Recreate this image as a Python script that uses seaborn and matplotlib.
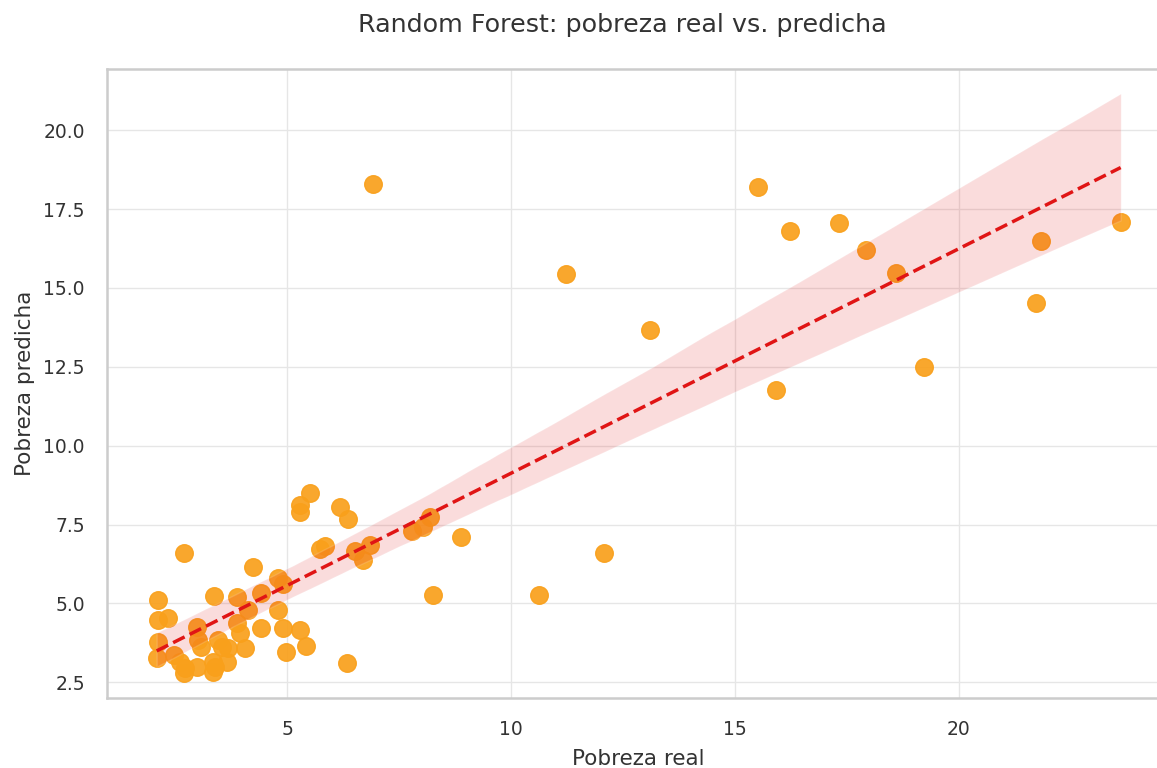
import numpy as np
import pandas as pd
import matplotlib
matplotlib.use("Agg")
import matplotlib.pyplot as plt
import seaborn as sns

# Observed vs. predicted poverty rates (%)
pobreza_real = [
    2.10, 2.10, 2.34, 2.10, 2.08, 2.46, 2.61, 2.72, 2.68, 2.99,
    2.70, 2.99, 3.01, 3.06, 3.35, 3.44, 3.55, 3.68, 3.33, 3.39,
    3.33, 3.66, 3.88, 3.88, 3.95, 4.11, 4.06, 4.24, 4.40, 4.40,
    4.78, 4.80, 4.91, 4.91, 4.96, 5.29, 5.42, 6.34, 5.29, 5.29,
    5.51, 6.18, 6.36, 5.74, 5.85, 6.52, 6.70, 6.85, 6.92, 7.79,
    8.04, 8.19, 8.26, 8.88, 10.63, 11.23, 12.08, 13.10, 15.51, 15.92,
    16.23, 17.32, 17.92, 18.59, 19.22, 21.72, 21.83, 23.62,
]
pobreza_predicha = [
    5.10, 4.47, 4.53, 3.77, 3.27, 3.36, 3.14, 2.95, 2.79, 2.98,
    6.59, 4.25, 3.84, 3.61, 5.23, 3.84, 3.61, 3.58, 3.14, 2.98,
    2.82, 3.14, 5.20, 4.38, 4.06, 4.79, 3.58, 6.15, 5.33, 4.22,
    4.79, 5.80, 5.61, 4.22, 3.46, 4.15, 3.65, 3.11, 8.12, 7.89,
    8.50, 8.05, 7.67, 6.72, 6.82, 6.66, 6.37, 6.85, 18.29, 7.29,
    7.42, 7.74, 5.26, 7.10, 5.26, 15.44, 6.59, 13.67, 18.20, 11.76,
    16.80, 17.06, 16.20, 15.47, 12.49, 14.52, 16.49, 17.09,
]

df = pd.DataFrame({"real": pobreza_real, "predicha": pobreza_predicha})

sns.set_theme(style="whitegrid")
plt.rcParams["font.family"] = ["DejaVu Sans"]

fig = plt.figure(figsize=(11.57, 7.68), dpi=100)
ax = fig.add_axes([107 / 1157, 1 - 698 / 768, 1062 / 1157, (698 - 69) / 768])

sns.regplot(
    data=df, x="real", y="predicha", ax=ax,
    scatter_kws={"s": 160, "color": "#F9A01B", "alpha": 0.92},
    line_kws={"color": "#E01515", "linestyle": "--", "linewidth": 2.5},
    seed=7,
)

ax.set_xlim(0.97, 24.70)
ax.set_ylim(2.0, 21.94)
ax.grid(color="#e6e6e6", linewidth=1.0)

for s in ax.spines.values():
    s.set_color("#cccccc")
    s.set_linewidth(1.8)

ax.set_yticks([2.5, 5.0, 7.5, 10.0, 12.5, 15.0, 17.5, 20.0])
ax.set_xticks([5, 10, 15, 20])
ax.tick_params(labelsize=13.5, colors="#333333", pad=10)
ax.set_xlabel("Pobreza real", fontsize=15.5, color="#333333", labelpad=7)
ax.set_ylabel("Pobreza predicha", fontsize=15.5, color="#333333", labelpad=6)
fig.text(0.538, 0.968, "Random Forest: pobreza real vs. predicha",
         ha="center", va="center", fontsize=18.3, color="#333333")

fig.savefig("out.png", dpi=100)
